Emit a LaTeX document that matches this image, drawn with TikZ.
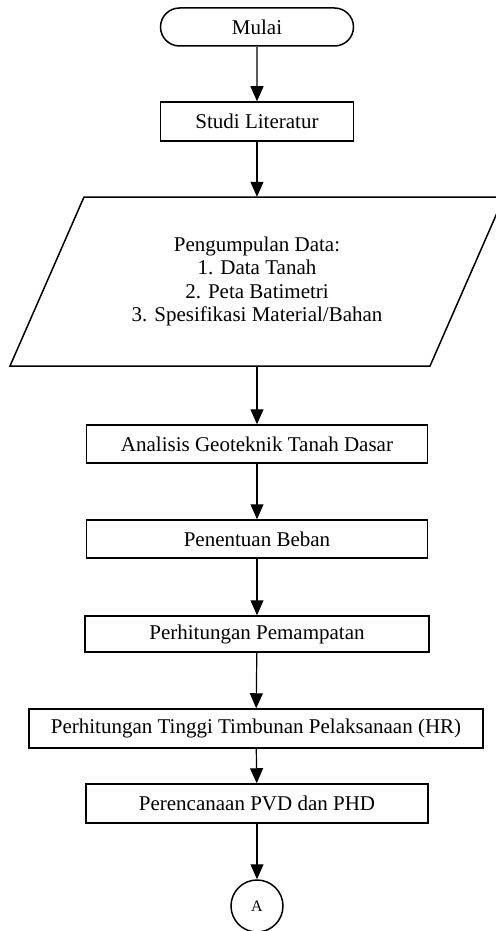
\documentclass[tikz,border=0pt]{standalone}
\usepackage{fontspec}
\setmainfont{Liberation Serif}
\usetikzlibrary{arrows.meta,shapes.misc}

\begin{document}
\begin{tikzpicture}[x=1pt,y=-1pt,
	proses/.style={draw,line width=1.5pt,minimum height=38pt,inner sep=0pt,
		font=\fontsize{21}{24}\selectfont},
	alur/.style={line width=1.2pt,-{Triangle[length=15pt,width=13pt]}}]
	\useasboundingbox (0,0) rectangle (495,931);

	% Terminal awal
	\node[proses,rounded rectangle,minimum width=193pt] (mulai) at (257,27) {Mulai};
	\node[proses,minimum width=193pt,minimum height=39pt] (studi) at (257,121.5) {Studi Literatur};

	% Input data (jajaran genjang)
	\node[minimum width=200pt,minimum height=169pt,inner sep=0pt,align=center,
		font=\fontsize{21}{23.3}\selectfont] (data) at (257,281.5)
		{Pengumpulan Data:\\1. Data Tanah\\2. Peta Batimetri\\3. Spesifikasi Material/Bahan};
	\draw[line width=1.5pt] (84,197) -- (504,197) -- (430,366) -- (10,366) -- cycle;

	% Proses
	\node[proses,minimum width=341pt] (analisis) at (257,444) {Analisis Geoteknik Tanah Dasar};
	\node[proses,minimum width=341pt] (beban) at (257,539) {Penentuan Beban};
	\node[proses,minimum width=344pt,minimum height=36pt] (pemampatan) at (257,634) {Perhitungan Pemampatan};
	\node[proses,minimum width=454pt,minimum height=39pt] (tinggi) at (256,728.5) {Perhitungan Tinggi Timbunan Pelaksanaan (HR)};
	\node[proses,minimum width=342pt,minimum height=39pt] (pvd) at (257,803.5) {Perencanaan PVD dan PHD};

	% Konektor
	\node[draw,circle,line width=1.5pt,minimum size=52pt,inner sep=0pt,
		font=\fontsize{16}{19}\selectfont] (konA) at (257,906) {A};

	% Panah
	\draw[alur] (mulai) -- (studi);
	\draw[alur] (studi) -- (data.north);
	\draw[alur] (data.south) -- (analisis);
	\draw[alur] (analisis) -- (beban);
	\draw[alur] (beban) -- (pemampatan);
	\draw[alur] (pemampatan) -- (tinggi);
	\draw[alur] (tinggi) -- (pvd);
	\draw[alur] (pvd) -- (konA);
\end{tikzpicture}
\end{document}
